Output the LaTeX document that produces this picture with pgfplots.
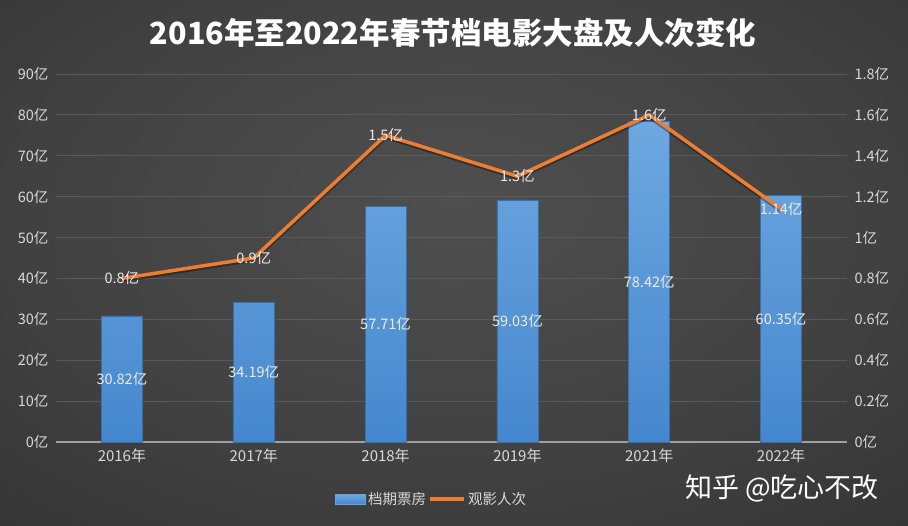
\documentclass[border=0pt]{standalone}
\usepackage{fontspec}
\setmainfont{Noto Sans CJK SC}
\usepackage{pgfplots}
\pgfplotsset{compat=1.18}
\definecolor{labelgray}{HTML}{D9D9D9}
\definecolor{gridgray}{HTML}{5A5A5A}
\definecolor{bartop}{HTML}{6EA8E0}
\definecolor{barbot}{HTML}{4587CE}
\definecolor{baredge}{HTML}{3A6EA8}
\definecolor{lineorange}{HTML}{ED7D31}
\pgfdeclareradialshading{bgshade}{\pgfpoint{0bp}{6bp}}{rgb(0bp)=(0.31,0.31,0.31); rgb(25bp)=(0.25,0.25,0.25); rgb(55bp)=(0.15,0.15,0.15); rgb(75bp)=(0.12,0.12,0.12)}
\pgfplotsset{
  common/.style={
    scale only axis, width=791pt, height=368pt,
    at={(56pt,84pt)}, anchor=south west,
    xmin=-0.5, xmax=5.5, ymin=0,
    major tick length=0pt,
    tick label style={font=\fontsize{14.5}{16}\selectfont, text=labelgray},
    /pgf/number format/assume math mode=true,
    clip=false,
  },
}
\begin{document}
\begin{tikzpicture}
\useasboundingbox (0,0) rectangle (908pt,526pt);
\shade[shading=bgshade] (0,0) rectangle (908pt,526pt);
% title
\node[text=white, font=\fontsize{30.5}{33}\selectfont\bfseries] at (453pt,493pt) {2016年至2022年春节档电影大盘及人次变化};
% watermark
\node[text=white, font=\fontsize{27}{30}\selectfont, anchor=center] at (782pt,38pt) {知乎 @吃心不改};
\begin{axis}[common,
  ymax=90,
  axis x line*=bottom, axis y line*=left,
  x axis line style={draw=gray!75, line width=1.6pt, -},
  y axis line style={draw=none},
  xtick={0,...,5},
  xticklabels={2016年,2017年,2018年,2019年,2021年,2022年},
  xticklabel style={yshift=-3pt, font=\fontsize{15}{17}\selectfont},
  ytick={0,10,...,90},
  yticklabel={\pgfmathprintnumber{\tick}亿},
  yticklabel style={xshift=-4pt},
  ymajorgrids, major grid style={draw=gridgray, line width=0.9pt},
  legend columns=2,
  legend style={at={(0.475,-0.155)}, anchor=center, draw=none, fill=none,
    text=labelgray, font=\fontsize{14.5}{16}\selectfont,
    /tikz/every even column/.append style={column sep=0pt}},
]
\addplot[ybar, bar width=41pt, draw=baredge, line width=0.6pt, top color=bartop, bottom color=barbot,
  legend image code/.code={\fill[bartop!85!barbot] (0pt,-5pt) rectangle (30pt,5pt);}]
  coordinates {(0,30.82) (1,34.19) (2,57.71) (3,59.03) (4,78.42) (5,60.35)};
\addlegendentry{档期票房}
\addplot[forget plot, draw=none, mark=none, nodes near coords, point meta=explicit symbolic,
  every node near coord/.append style={anchor=center, text=white!92!black, font=\fontsize{14.5}{16}\selectfont}]
  coordinates {(0,15.41)[30.82亿] (1,17.095)[34.19亿] (2,28.855)[57.71亿] (3,29.515)[59.03亿] (4,39.21)[78.42亿] (5,30.175)[60.35亿]};
\addlegendimage{legend image code/.code={\draw[lineorange, line width=4pt] (0pt,0pt) -- (34pt,0pt);}}
\addlegendentry{观影人次}
\end{axis}
\begin{axis}[common,
  ymax=1.8,
  axis x line=none, axis y line*=right,
  y axis line style={draw=none},
  ytick={0,0.2,...,1.8},
  yticklabel={\pgfmathprintnumber{\tick}亿},
  yticklabel style={xshift=4pt},
]
\addplot[lineorange, line width=3.5pt, line join=round, mark=none,
  preaction={draw=black, opacity=0.35, line width=4.5pt, transform canvas={yshift=-1.5pt}},
  nodes near coords, point meta=explicit symbolic,
  every node near coord/.append style={anchor=center, text=white!92!black, font=\fontsize{14.5}{16}\selectfont}]
  coordinates {(0,0.8)[0.8亿] (1,0.9)[0.9亿] (2,1.5)[1.5亿] (3,1.3)[1.3亿] (4,1.6)[1.6亿] (5,1.14)[1.14亿]};
\end{axis}
\end{tikzpicture}
\end{document}
